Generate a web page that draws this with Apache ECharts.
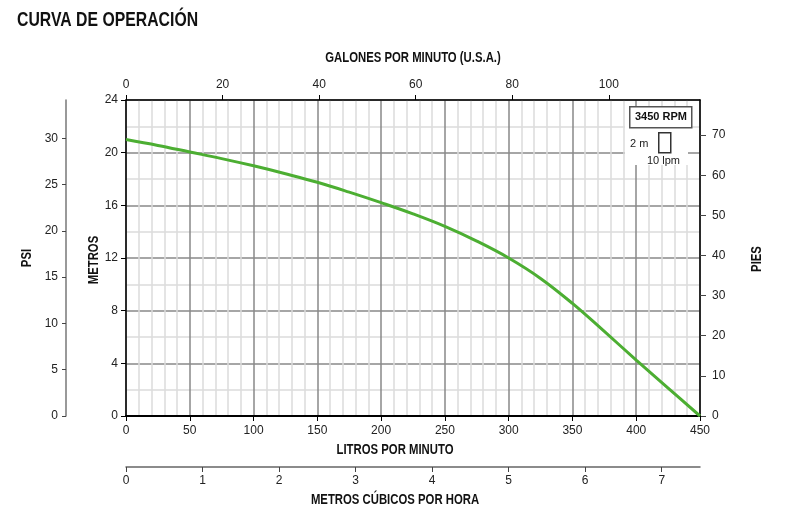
<!DOCTYPE html>
<html>
<head>
<meta charset="utf-8">
<title>Curva de operación</title>
<script src="https://cdn.jsdelivr.net/npm/echarts@6/dist/echarts.min.js"></script>
<style>
  html, body { margin: 0; padding: 0; background: #fff; }
  #chart { width: 800px; height: 525px; }
</style>
</head>
<body>
<div id="chart"></div>
<script>
  // caudal (litros por minuto) y altura (metros)
  var lpm = [0, 25, 50, 75, 100, 125, 150, 175, 200, 225, 250, 275, 300, 325, 350, 375, 400, 425, 450];
  var metros = [21.0, 20.55, 20.05, 19.55, 19.0, 18.4, 17.75, 17.0, 16.2, 15.35, 14.4, 13.28, 12.0, 10.45, 8.55, 6.42, 4.25, 2.12, 0];

  // factores de conversión para los ejes secundarios
  var LPM_MAX = 450;
  var M_MAX = 24;
  var GPM_MAX = LPM_MAX / 3.78541;
  var M3H_MAX = 7.5;
  var PSI_MAX = M_MAX * 1.42233;
  var PIES_MAX = M_MAX * 3.28084;

  var sans = '"Liberation Sans", Arial, sans-serif';

  var curva = lpm.map(function (q, i) { return [q, metros[i]]; });

  var chart = echarts.init(document.getElementById('chart'));

  var labelStyle = { color: '#222', fontFamily: sans, fontSize: 12 };

  // títulos de ejes en negrita condensada (no hay Arial Narrow, se comprime en x)
  function titulo(text, x, y, size, rot, align) {
    return {
      type: 'text', x: x, y: y, rotation: rot || 0, scaleX: 0.81, z: 20,
      style: {
        text: text, fill: '#111', font: 'bold ' + size + 'px ' + sans,
        align: align || 'center', verticalAlign: 'middle'
      }
    };
  }

  var options = {
    backgroundColor: '#fff',
    animation: false,
    grid: { left: 126, right: 100, top: 100, bottom: 109 },
    xAxis: [
      {
        type: 'value', position: 'bottom', min: 0, max: LPM_MAX, interval: 50,
        axisLine: { lineStyle: { color: '#000', width: 2 } },
        axisTick: { show: true, length: 5, lineStyle: { color: '#000' } },
        axisLabel: Object.assign({ margin: 9 }, labelStyle),
        splitLine: { show: true, lineStyle: { color: '#888', width: 1.5 } },
        minorTick: { show: false, splitNumber: 5 },
        minorSplitLine: { show: true, lineStyle: { color: '#dcdcdc', width: 1.5 } }
      },
      {
        type: 'value', position: 'top', min: 0, max: GPM_MAX, interval: 20,
        axisLine: { show: true, onZero: false, lineStyle: { color: '#000', width: 1.5 } },
        axisTick: { show: true, length: 5, lineStyle: { color: '#000' } },
        axisLabel: Object.assign({ margin: 9, showMaxLabel: false }, labelStyle),
        splitLine: { show: false }
      },
      {
        type: 'value', position: 'bottom', offset: 51, min: 0, max: M3H_MAX, interval: 1,
        axisLine: { show: true, onZero: false, lineStyle: { color: '#666', width: 1.5 } },
        axisTick: { show: true, length: 5, lineStyle: { color: '#444' } },
        axisLabel: Object.assign({ margin: 8, showMaxLabel: false }, labelStyle),
        splitLine: { show: false }
      }
    ],
    yAxis: [
      {
        type: 'value', position: 'left', min: 0, max: M_MAX, interval: 4,
        axisLine: { show: true, onZero: false, lineStyle: { color: '#000', width: 1.5 } },
        axisTick: { show: true, length: 5, lineStyle: { color: '#000' } },
        axisLabel: Object.assign({ margin: 8 }, labelStyle),
        splitLine: { show: true, lineStyle: { color: '#888', width: 1.5 } },
        minorTick: { show: false, splitNumber: 2 },
        minorSplitLine: { show: true, lineStyle: { color: '#dcdcdc', width: 1.5 } }
      },
      {
        type: 'value', position: 'left', offset: 60, min: 0, max: PSI_MAX, interval: 5,
        axisLine: { show: true, onZero: false, lineStyle: { color: '#777', width: 1.5 } },
        axisTick: { show: true, length: 4, lineStyle: { color: '#444' } },
        axisLabel: Object.assign({ margin: 8, showMaxLabel: false }, labelStyle),
        splitLine: { show: false }
      },
      {
        type: 'value', position: 'right', min: 0, max: PIES_MAX, interval: 10,
        axisLine: { show: true, onZero: false, lineStyle: { color: '#000', width: 1.5 } },
        axisTick: { show: true, length: 6, lineStyle: { color: '#444' } },
        axisLabel: Object.assign({ margin: 12, showMaxLabel: false }, labelStyle),
        splitLine: { show: false }
      }
    ],
    series: [
      {
        name: '3450 RPM',
        type: 'line',
        xAxisIndex: 0,
        yAxisIndex: 0,
        smooth: 0.4,
        symbol: 'none',
        lineStyle: { color: '#4cae32', width: 3 },
        data: curva,
        z: 5
      }
    ],
    graphic: [
      titulo('CURVA DE OPERACIÓN', 17, 21, 19.5, 0, 'left'),
      titulo('GALONES POR MINUTO (U.S.A.)', 413, 58, 14),
      titulo('LITROS POR MINUTO', 395, 450, 14),
      titulo('METROS CÚBICOS POR HORA', 395, 500, 14),
      titulo('METROS', 94, 260, 14, Math.PI / 2),
      titulo('PSI', 27, 258, 14, Math.PI / 2),
      titulo('PIES', 757, 259, 14, Math.PI / 2),
      // fondo blanco de la leyenda
      { type: 'rect', left: 625, top: 106, z: 10, shape: { width: 63, height: 59 }, style: { fill: '#fff' } },
      { type: 'rect', left: 629, top: 106, z: 11, shape: { width: 62, height: 21 }, style: { fill: '#fff', stroke: '#555', lineWidth: 1.5 } },
      { type: 'text', left: 635, top: 111, z: 12, style: { text: '3450 RPM', fill: '#111', font: 'bold 11px ' + sans } },
      { type: 'rect', left: 658, top: 132, z: 11, shape: { width: 12, height: 20 }, style: { fill: '#fff', stroke: '#333', lineWidth: 1.5 } },
      { type: 'text', left: 630, top: 138, z: 12, style: { text: '2 m', fill: '#222', font: '11px ' + sans } },
      { type: 'text', left: 647, top: 155, z: 12, style: { text: '10 lpm', fill: '#222', font: '11px ' + sans } }
    ]
  };

  chart.setOption(options);
</script>
</body>
</html>
